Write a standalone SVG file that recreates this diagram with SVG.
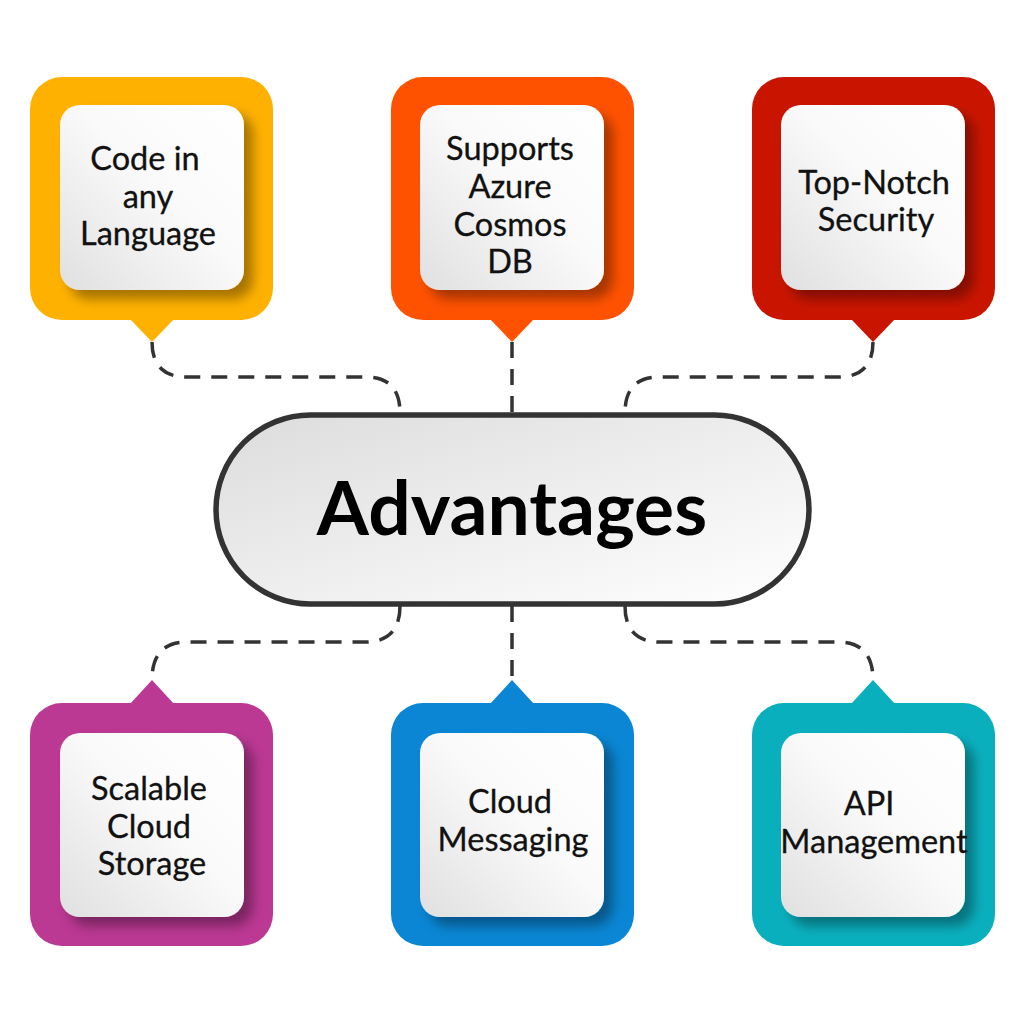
<svg xmlns="http://www.w3.org/2000/svg" width="1024" height="1024" viewBox="0 0 1024 1024">
<defs>
<linearGradient id="gBox" x1="0" y1="1" x2="1" y2="0">
<stop offset="0" stop-color="#e0e0e0"/>
<stop offset="0.55" stop-color="#fafafa"/>
<stop offset="1" stop-color="#ffffff"/>
</linearGradient>
<linearGradient id="gPill" x1="0" y1="0" x2="1" y2="1">
<stop offset="0" stop-color="#dcdcdc"/>
<stop offset="1" stop-color="#ffffff"/>
</linearGradient>
<filter id="sh" x="-20%" y="-20%" width="150%" height="150%">
<feDropShadow dx="9" dy="9" stdDeviation="6" flood-color="#000" flood-opacity="0.35"/>
</filter>
</defs>
<style>
.lbl{font-family:Lato,"Open Sans","Liberation Sans",sans-serif;font-size:32.5px;fill:#111;text-anchor:middle;stroke:#111;stroke-width:0.3}
.main{font-family:Lato,"Open Sans","Liberation Sans",sans-serif;font-size:75px;font-weight:bold;fill:#000;text-anchor:middle}
.inner{fill:url(#gBox)}
.con{fill:none;stroke:#333;stroke-width:3.5;stroke-dasharray:16 11}
</style>
<rect width="1024" height="1024" fill="#ffffff"/>

<g id="connectors">
<path class="con" d="M152,342 Q152,377 187,377 H366 Q400,377 400,413"/>
<path class="con" d="M512,342 V413"/>
<path class="con" d="M873,342 Q873,377 838,377 H659 Q625,377 625,413"/>
<path class="con" d="M400,606 Q400,642 365,642 H187 Q152,642 152,680"/>
<path class="con" d="M512,606 V680"/>
<path class="con" d="M625,606 Q625,642 660,642 H838 Q873,642 873,680"/>
</g>

<g id="node-code">
<rect x="30" y="77" width="243" height="243" rx="32" fill="#FEB100"/>
<path d="M130,319 L174,319 L152,342 Z" fill="#FEB100"/>
<rect class="inner" x="60" y="105" width="184" height="185" rx="20" filter="url(#sh)"/>
<text class="lbl" x="145" y="170">Code in</text>
<text class="lbl" x="148" y="208">any</text>
<text class="lbl" x="148" y="245">Language</text>
</g>

<g id="node-cosmos">
<rect x="391" y="77" width="243" height="243" rx="32" fill="#FF5200"/>
<path d="M490,319 L534,319 L512,342 Z" fill="#FF5200"/>
<rect class="inner" x="420" y="105" width="184" height="185" rx="20" filter="url(#sh)"/>
<text class="lbl" x="510" y="160">Supports</text>
<text class="lbl" x="510" y="198">Azure</text>
<text class="lbl" x="510" y="236">Cosmos</text>
<text class="lbl" x="510" y="273">DB</text>
</g>

<g id="node-security">
<rect x="752" y="77" width="243" height="243" rx="32" fill="#C91500"/>
<path d="M851,319 L895,319 L873,342 Z" fill="#C91500"/>
<rect class="inner" x="781" y="105" width="184" height="185" rx="20" filter="url(#sh)"/>
<text class="lbl" x="874" y="194">Top-Notch</text>
<text class="lbl" x="876" y="231">Security</text>
</g>

<g id="node-advantages">
<rect x="216" y="415" width="593" height="189" rx="94.5" fill="url(#gPill)" stroke="#333" stroke-width="5.5"/>
<text class="main" x="512" y="535">Advantages</text>
</g>

<g id="node-storage">
<rect x="30" y="703" width="243" height="243" rx="32" fill="#BB3893"/>
<path d="M130,704 L174,704 L152,680 Z" fill="#BB3893"/>
<rect class="inner" x="60" y="733" width="184" height="184" rx="20" filter="url(#sh)"/>
<text class="lbl" x="149" y="800">Scalable</text>
<text class="lbl" x="149" y="838">Cloud</text>
<text class="lbl" x="152" y="875">Storage</text>
</g>

<g id="node-messaging">
<rect x="391" y="703" width="243" height="243" rx="32" fill="#0A86D4"/>
<path d="M490,704 L534,704 L512,680 Z" fill="#0A86D4"/>
<rect class="inner" x="420" y="733" width="184" height="184" rx="20" filter="url(#sh)"/>
<text class="lbl" x="510" y="813">Cloud</text>
<text class="lbl" x="513" y="851">Messaging</text>
</g>

<g id="node-api">
<rect x="752" y="703" width="243" height="243" rx="32" fill="#0AAFBE"/>
<path d="M851,704 L895,704 L873,680 Z" fill="#0AAFBE"/>
<rect class="inner" x="781" y="733" width="184" height="184" rx="20" filter="url(#sh)"/>
<text class="lbl" x="869" y="815">API</text>
<text class="lbl" x="874" y="853">Management</text>
</g>
</svg>
